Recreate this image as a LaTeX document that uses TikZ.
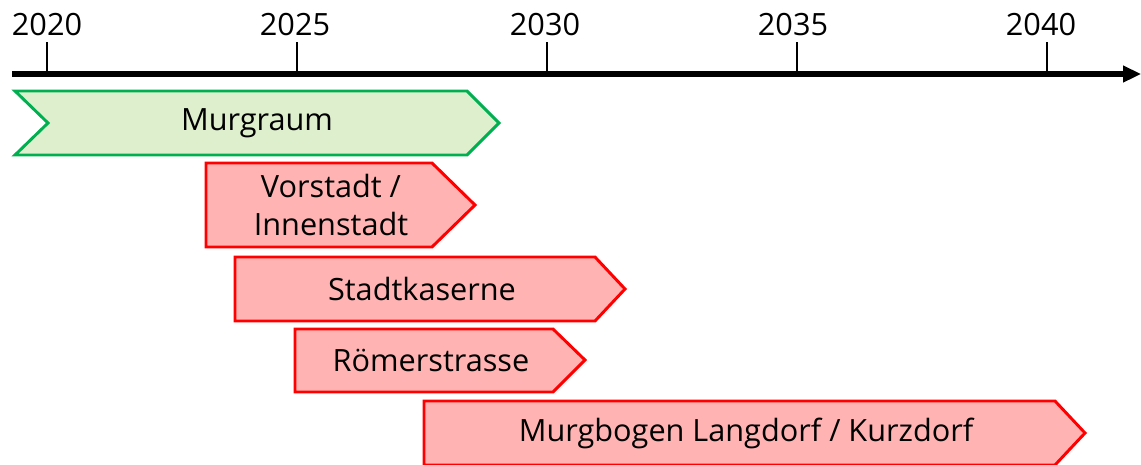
\documentclass[tikz,border=0pt]{standalone}
\usepackage{fontspec}
\setmainfont{Open Sans}
\usetikzlibrary{arrows.meta}
\definecolor{gfill}{RGB}{221,239,204}
\definecolor{gline}{RGB}{0,176,80}
\definecolor{rfill}{RGB}{255,179,179}
\definecolor{rline}{RGB}{255,0,0}
\tikzset{
  green bar/.style={fill=gfill,draw=gline,line width=2.2pt,line join=miter},
  red bar/.style={fill=rfill,draw=rline,line width=2.2pt,line join=miter},
  lbl/.style={font=\fontsize{23pt}{29pt}\selectfont,align=center,inner sep=0pt},
  yearlbl/.style={font=\fontsize{23pt}{29pt}\selectfont,anchor=base,inner sep=0pt},
  tick/.style={line width=1.5pt},
  axis/.style={line width=3.8pt,-{Triangle[length=13.5pt,width=12pt]}}
}
\begin{document}
\begin{tikzpicture}[x=0.75pt,y=-0.75pt]
\useasboundingbox (0,0) rectangle (1141,464);
% axis
\coordinate (ax0) at (12,74);
\coordinate (ax1) at (1141,74);
\draw[axis] (ax0) -- (ax1);
\foreach \yr/\xx/\lx in {2020/47/47,2025/297/295,2030/547/545,2035/797/793,2040/1047/1041}{
  \coordinate (t\yr) at (\xx,74);
  \coordinate (u\yr) at (\xx,42);
  \draw[tick] (t\yr) -- (u\yr);
  \node[yearlbl] (y\yr) at (\lx,35) {\yr};
}
% bars
\draw[green bar] (15,91) -- (467,91) -- (499,123) -- (467,155) -- (15,155) -- (48,123) -- cycle;
\node[lbl] (murgraum) at (257,123) {Murgraum};
\draw[red bar] (206,163) -- (432,163) -- (475,205) -- (432,247) -- (206,247) -- cycle;
\node[lbl] (vorstadt) at (331,205) {Vorstadt /\\Innenstadt};
\draw[red bar] (235,257) -- (595,257) -- (625,289) -- (595,321) -- (235,321) -- cycle;
\node[lbl] (stadtkaserne) at (422,289) {Stadtkaserne};
\draw[red bar] (295,329) -- (553,329) -- (585,360) -- (553,392) -- (295,392) -- cycle;
\node[lbl] (roemer) at (431,360) {Römerstrasse};
\draw[red bar] (424,401) -- (1055,401) -- (1085,433) -- (1055,465) -- (424,465) -- cycle;
\node[lbl] (murgbogen) at (746,433) {Murgbogen Langdorf / Kurzdorf};
\end{tikzpicture}
\end{document}
